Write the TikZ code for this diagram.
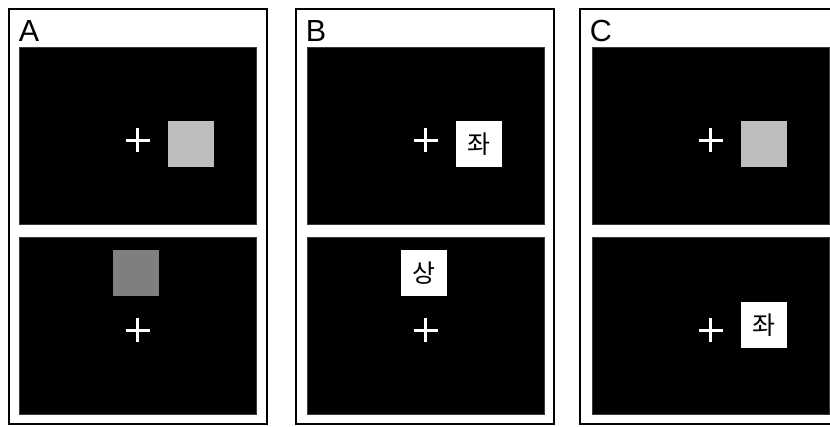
\documentclass[tikz,border=0pt]{standalone}
\usepackage{fontspec}
\setmainfont{Liberation Sans}
\newfontfamily\kofont{Noto Sans CJK KR}
\usetikzlibrary{positioning}
\definecolor{clight}{HTML}{BDBDBD}
\definecolor{cdark}{HTML}{7F7F7F}
\definecolor{cedge}{HTML}{3A3A3A}
\tikzset{
  every picture/.style={x=1pt, y=-1pt, line width=1.5pt},
  panel/.style={draw=black, line width=1.6pt, inner sep=0pt, minimum width=258pt, minimum height=415pt, anchor=north west},
  screen/.style={fill=black, draw=cedge, line width=0.6pt, inner sep=0pt, minimum width=237pt, minimum height=177pt, anchor=north west},
  patch/.style={fill=#1, inner sep=0pt, minimum size=46pt, font=\kofont\fontsize{25}{25}\selectfont},
  patch/.default=white,
  fixcross/.style={draw=white, line width=3pt},
  tag/.style={font=\fontsize{30.5}{30.5}\selectfont, inner sep=0pt, anchor=north west},
}

\begin{document}
\begin{tikzpicture}
  \useasboundingbox (0,0) rectangle (830,427);
  \foreach \p/\x/\s in {A/8/11, B/295/12, C/579/13} {
    \node[panel] (f\p) at (\x,8) {};
    \node[tag] (t\p) at (\x+10,19.5) {\p};
    \node[screen] (up\p) at (\x+\s,47) {};
    \node[screen] (lo\p) at (\x+\s,237) {};
    \draw[fixcross] ([xshift=-12pt,yshift=-4.5pt]up\p.center) -- ([xshift=12pt,yshift=-4.5pt]up\p.center)
                    ([yshift=-16.5pt]up\p.center) -- ([yshift=7.5pt]up\p.center);
    \draw[fixcross] ([xshift=-12pt,yshift=-4.5pt]lo\p.center) -- ([xshift=12pt,yshift=-4.5pt]lo\p.center)
                    ([yshift=-16.5pt]lo\p.center) -- ([yshift=7.5pt]lo\p.center);
  }
  % panel A: grey squares
  \node[patch=clight] (sqA1) at (190.5,144) {};
  \node[patch=cdark] (sqA2) at (136,273) {};
  % panel B: words
  \node[patch] (wdB1) at (479,144) {좌};
  \node[patch] (wdB2) at (424,273) {상};
  % panel C: square, then word
  \node[patch=clight] (sqC1) at (763.5,144) {};
  \node[patch] (wdC2) at (763.5,325.5) {좌};
\end{tikzpicture}
\end{document}
